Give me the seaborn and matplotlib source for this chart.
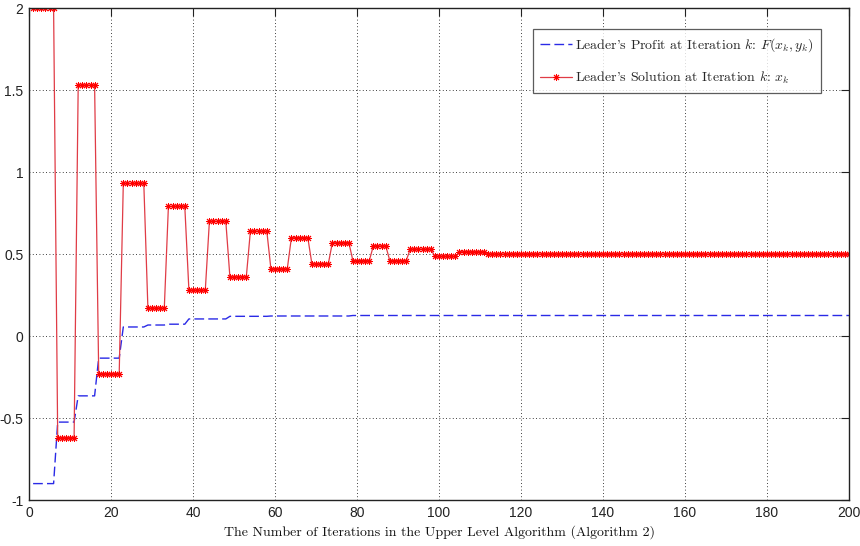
import numpy as np
import pandas as pd
import matplotlib
matplotlib.use("Agg")
import matplotlib.pyplot as plt
import seaborn as sns

# ---- data (plateau values and their lengths) ----
red_levels = [2.0, -0.62, 1.53, -0.23, 0.93, 0.17, 0.79, 0.28, 0.70, 0.36,
              0.64, 0.41, 0.60, 0.44, 0.57, 0.46, 0.55, 0.46, 0.53, 0.485,
              0.515, 0.50]
red_lengths = [6, 5, 5, 6, 6, 5, 5, 5, 5, 5,
               5, 5, 5, 5, 5, 5, 4, 5, 6, 6,
               7, 89]
blue_levels = [-0.90, -0.525, -0.365, -0.135, 0.055, 0.067, 0.072, 0.104,
               0.120, 0.122, 0.125]
blue_lengths = [6, 5, 5, 6, 6, 5, 5, 10, 10, 20, 122]

x_ticks = [0, 20, 40, 60, 80, 100, 120, 140, 160, 180, 200]
y_ticks = [-1, -0.5, 0, 0.5, 1, 1.5, 2]
y_tick_labels = ["-1", "-0.5", "0", "0.5", "1", "1.5", "2"]

label_blue = r"Leader's Profit at Iteration $k$: $F(x_k, y_k)$"
label_red = r"Leader's Solution at Iteration $k$: $x_k$"
xlabel = "The Number of Iterations in the Upper Level Algorithm (Algorithm 2)"

red_vals = np.repeat(red_levels, red_lengths)
blue_vals = np.repeat(blue_levels, blue_lengths)
iters = np.arange(1, len(red_vals) + 1)
df = pd.DataFrame({"iter": iters, "profit": blue_vals, "solution": red_vals})

# ---- style ----
sns.set_theme(style="white")
plt.rcParams["font.family"] = ["Liberation Sans Narrow", "Liberation Sans", "DejaVu Sans"]
plt.rcParams["mathtext.fontset"] = "cm"
plt.rcParams["axes.unicode_minus"] = False

fig = plt.figure(figsize=(8.6, 5.46), dpi=100)
ax = fig.add_axes([29 / 860, 1 - 500 / 546, 820 / 860, 492 / 546])

sns.lineplot(data=df, x="iter", y="profit", ax=ax, color="#2a2ae6",
             linewidth=1.0, linestyle=(0, (7, 3)), label=label_blue)
sns.lineplot(data=df, x="iter", y="solution", ax=ax, color="#e03c46",
             linewidth=0.9, marker=(8, 2, 0), markersize=5,
             markeredgewidth=0.7, markeredgecolor="#ff0000",
             markerfacecolor="#ff0000", label=label_red)

ax.set_xlim(0, 200)
ax.set_ylim(-1, 2)
ax.set_xticks(x_ticks)
ax.set_xticklabels([str(v) for v in x_ticks])
ax.set_yticks(y_ticks)
ax.set_yticklabels(y_tick_labels)
ax.tick_params(direction="in", length=6, width=0.8, top=True, right=True,
               labelsize=10, colors="#222222", pad=4)
ax.grid(True, color="black", linestyle=(0, (1, 3)), linewidth=0.6)
for s in ax.spines.values():
    s.set_color("#222222")
    s.set_linewidth(1.0)

ax.set_xlabel(xlabel, family="cmr10", fontsize=10, color="#111111", labelpad=4)
ax.set_ylabel("")

leg = ax.legend(loc="upper right", bbox_to_anchor=(0.966, 0.958),
                prop={"family": "cmr10", "size": 10}, frameon=True,
                fancybox=False, edgecolor="#333333", handlelength=2.3,
                handletextpad=0.2, numpoints=1, borderpad=0.55,
                labelspacing=1.1, borderaxespad=0.0)
leg.get_frame().set_linewidth(0.9)

fig.savefig("out.png", dpi=100)
